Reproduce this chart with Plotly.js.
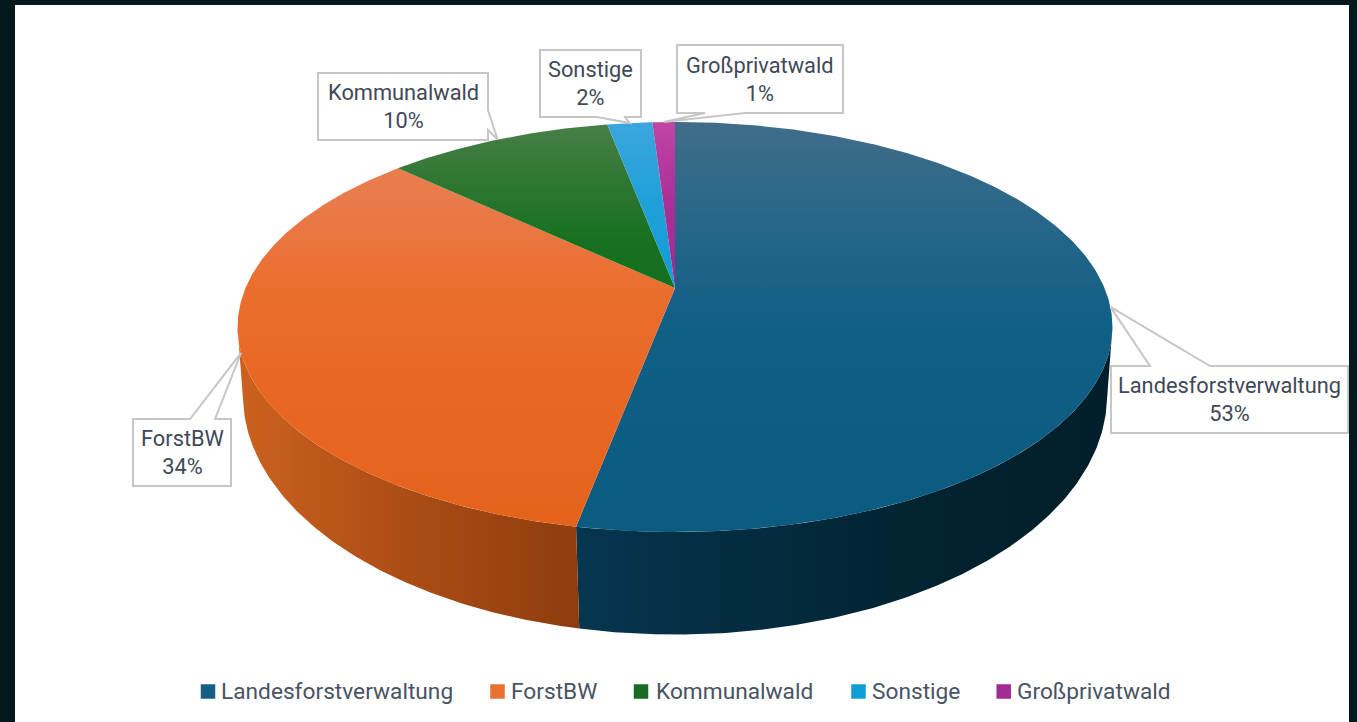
<!DOCTYPE html>
<html><head><meta charset="utf-8">
<script src="https://cdn.plot.ly/plotly-3.0.1.min.js"></script>
<style>html,body{margin:0;padding:0;background:#04191b;overflow:hidden}#chart{width:1357px;height:722px}</style>
</head><body><div id="chart"></div>
<script>
// Data
const categories = ['Landesforstverwaltung','ForstBW','Kommunalwald','Sonstige','Großprivatwald'];
const shares = [53,34,10,2,1];
const baseColors = ['#156082','#e97132','#196b24','#0f9ed5','#a02b93'];

// Top-face shading, by slice
const topShades = [
  [[0,'#406d89'],[0.3,'#226588'],[0.5,'#115f85'],[1,'#0b5a80']],
  [[0,'#ec8152'],[0.2,'#e97a49'],[0.4,'#eb6e2f'],[0.6,'#e96826'],[1,'#e4621a']],
  [[0,'#487f48'],[0.15,'#2f7732'],[0.3,'#15701f'],[1,'#15701f']],
  [[0,'#3ba6dd'],[0.2,'#1fa0d8'],[0.4,'#0f9ed5'],[1,'#0f9ed5']],
  [[0,'#c045a4'],[0.2,'#a92f97'],[0.4,'#a02b93'],[1,'#a02b93']]
];
const wallShades = [
  [[0,'#063650'],[0.3,'#042c40'],[0.7,'#02222f'],[1,'#011f2b']],
  [[0,'#cb611e'],[0.5,'#ab4c15'],[1,'#8e3d0d']]
];

// Projection of the disc
const topDisc = {cx:675, cy:288, a:429.5, b:197.6, k:0.19};
const baseDisc = {cx:675, cy:355, a:425.7, b:232, k:0.17};
const wallStart = 101, wallEnd = 259;   // degrees of visible outer wall
function proj(d,deg){const t=deg*Math.PI/180,s=Math.sin(t),c=Math.cos(t),w=1+d.k*c;
  return [d.cx+d.a*s/w, d.cy-d.b*c/w];}
function arc(d,from,to){const n=Math.max(6,Math.ceil(Math.abs(to-from)*2)),o=[];
  for(let i=0;i<=n;i++)o.push(proj(d,from+(to-from)*i/n));return o;}

const total = shares.reduce((a,b)=>a+b,0);
let run=0; const spans = shares.map(v=>{const s=[run/total*360,(run+v)/total*360];run+=v;return s;});

const traces=[];
// outer wall
[[0],[1]].forEach(([i])=>{
  const from=Math.max(spans[i][0],wallStart), to=Math.min(spans[i][1],wallEnd);
  const pts=arc(topDisc,from,to).concat(arc(baseDisc,to,from));
  pts.push(pts[0]);
  traces.push({type:'scatter',mode:'lines',x:pts.map(p=>p[0]),y:pts.map(p=>p[1]),fill:'toself',
    line:{width:0,color:wallShades[i][1][1]},hoverinfo:'skip',showlegend:false,
    fillgradient:{type:'horizontal',start:i===0?578:240,stop:i===0?1113:578,colorscale:wallShades[i]}});
});
// top face
spans.forEach((s,i)=>{
  const pts=[[topDisc.cx,topDisc.cy]].concat(arc(topDisc,s[0],s[1]));
  pts.push(pts[0]);
  traces.push({type:'scatter',mode:'lines',name:categories[i],x:pts.map(p=>p[0]),y:pts.map(p=>p[1]),fill:'toself',
    line:{width:0},hoverinfo:'skip',showlegend:false,
    fillgradient:{type:'vertical',start:122,stop:532,colorscale:topShades[i]}});
});
// legend swatches
const legendMarkX=[208,497.5,641,858.5,1003.7], legendTextX=[221,511,655.5,871.5,1016.5], legendY=691.5;
categories.forEach((c,i)=>traces.push({type:'scatter',mode:'markers',name:c,x:[legendMarkX[i]],y:[legendY],
  marker:{symbol:'square',size:14.5,color:baseColors[i]},hoverinfo:'skip',showlegend:false}));

// Callouts: box [x0,y0,x1,y1], side the leader leaves from, leader foot positions
const boxes=[[1111,366,1348,433],[133,419,231,486],[318,73,488,140],[540,50,641,117],[677,45,843,113]];
const feet=[[1150,1210],[190,215],[110,130],[597,625],[705,745]];
const footSide=['top','top','right','bottom','bottom'];
const labelColor='#3f4858', FONT='Roboto, sans-serif';
const shapes=[{type:'rect',xref:'x',yref:'y',x0:15,x1:1349,y0:5,y1:722,fillcolor:'#ffffff',line:{width:0},layer:'below'}];
const annotations=[];
boxes.forEach((b,i)=>{
  const mid=(spans[i][0]+spans[i][1])/2, tip=proj(topDisc,mid), [x0,y0,x1,y1]=b, [f1,f2]=feet[i];
  let d;
  if(footSide[i]==='top') d=`M${x0} ${y0}L${f1} ${y0}L${tip[0]} ${tip[1]}L${f2} ${y0}L${x1} ${y0}L${x1} ${y1}L${x0} ${y1}Z`;
  else if(footSide[i]==='bottom') d=`M${x0} ${y0}L${x1} ${y0}L${x1} ${y1}L${f2} ${y1}L${tip[0]} ${tip[1]}L${f1} ${y1}L${x0} ${y1}Z`;
  else d=`M${x0} ${y0}L${x1} ${y0}L${x1} ${f1}L${tip[0]} ${tip[1]}L${x1} ${f2}L${x1} ${y1}L${x0} ${y1}Z`;
  shapes.push({type:'path',xref:'x',yref:'y',path:d,fillcolor:'#ffffff',line:{color:'#c6c6c6',width:2},layer:'above'});
  annotations.push({xref:'x',yref:'y',x:(x0+x1)/2,y:(y0+y1)/2,text:categories[i]+'<br>'+shares[i]+'%',showarrow:false,
    xanchor:'center',yanchor:'middle',align:'center',font:{family:FONT,size:21.8,color:labelColor}});
});
categories.forEach((c,i)=>annotations.push({xref:'x',yref:'y',x:legendTextX[i],y:legendY-0.5,text:c,showarrow:false,
  xanchor:'left',yanchor:'middle',xshift:-2,font:{family:FONT,size:22.7,color:'#485363'}}));

const axis={visible:false,fixedrange:true};
Plotly.newPlot('chart',traces,{
  width:1357,height:722,margin:{l:0,r:0,t:0,b:0},
  paper_bgcolor:'#04191b',plot_bgcolor:'rgba(0,0,0,0)',showlegend:false,
  xaxis:Object.assign({range:[0,1357]},axis),yaxis:Object.assign({range:[722,0]},axis),
  shapes,annotations
},{displayModeBar:false,staticPlot:true});
</script></body></html>
